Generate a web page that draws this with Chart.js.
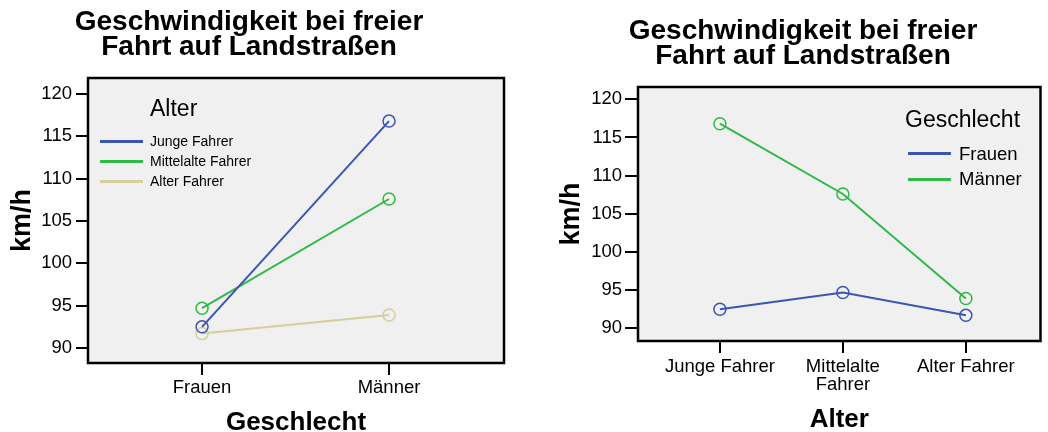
<!DOCTYPE html>
<html>
<head>
<meta charset="utf-8">
<script src="https://cdn.jsdelivr.net/npm/chart.js@4.4.1/dist/chart.umd.min.js"></script>
<style>
  body { margin: 0; width: 1048px; height: 432px; overflow: hidden; background: #fff; position: relative;
         font-family: 'Liberation Sans', Arial, sans-serif; color: #000; }
  canvas { position: absolute; top: 0; }
  #chart1 { left: -6px; }
  #chart2 { left: 540px; }
  .legend { position: absolute; z-index: 2; white-space: nowrap; }
  .legend .ttl { font-size: 23px; line-height: 26px; }
  .legend .row { display: flex; align-items: center; }
  .legend .swatch { display: inline-block; width: 43px; height: 3px; }
  #legend1 { left: 100px; top: 95px; }
  #legend1 .ttl { margin-left: 50px; margin-bottom: 10px; }
  #legend1 .row { height: 20px; font-size: 14px; }
  #legend1 .swatch { margin-right: 7px; }
  #legend2 { left: 908px; top: 106px; }
  #legend2 .ttl { margin-left: -3px; margin-bottom: 8.75px; }
  #legend2 .row { height: 25.5px; font-size: 18.5px; }
  #legend2 .swatch { margin-right: 8px; }
</style>
</head>
<body>
<canvas id="chart1" width="526" height="432"></canvas>
<canvas id="chart2" width="508" height="432"></canvas>
<div id="legend1" class="legend"></div>
<div id="legend2" class="legend"></div>
<script>
// values (km/h)
const genderLabels = ['Frauen', 'Männer'];
const ageLabels = ['Junge Fahrer', 'Mittelalte Fahrer', 'Alter Fahrer'];
const ageTickLabels = [['Junge Fahrer'], ['Mittelalte', 'Fahrer'], ['Alter Fahrer']];
const speedFrauen = [92.5, 94.7, 91.7];   // Junge, Mittelalte, Alter
const speedMaenner = [116.8, 107.6, 93.9];
const yTicks = [90, 95, 100, 105, 110, 115, 120];

const ageColors = ['#3c55b0', '#30b848', '#d6ce9b'];
const genderColors = ['#3c55b0', '#30b848'];
const chartTitle = ['Geschwindigkeit bei freier', 'Fahrt auf Landstraßen'];

Chart.defaults.font.family = "'Liberation Sans', Arial, sans-serif";
Chart.defaults.color = '#000';

// grey plot background + black frame
const plotFrame = {
  id: 'plotFrame',
  beforeDraw(chart) {
    const { ctx, chartArea: a } = chart;
    ctx.save();
    ctx.fillStyle = '#f0f0f0';
    ctx.fillRect(a.left, a.top, a.width, a.height);
    ctx.restore();
  },
  afterDraw(chart) {
    const { ctx, chartArea: a } = chart;
    ctx.save();
    ctx.strokeStyle = '#000';
    ctx.lineWidth = 2.5;
    ctx.strokeRect(a.left, a.top, a.width, a.height);
    ctx.restore();
  }
};

// legend as html, built from the datasets
const htmlLegend = {
  id: 'htmlLegend',
  afterUpdate(chart, args, opts) {
    const box = document.getElementById(opts.containerID);
    box.innerHTML = '';
    const t = document.createElement('div');
    t.className = 'ttl';
    t.textContent = opts.title;
    box.appendChild(t);
    chart.data.datasets.forEach((ds) => {
      const row = document.createElement('div');
      row.className = 'row';
      const sw = document.createElement('span');
      sw.className = 'swatch';
      sw.style.background = ds.borderColor;
      const tx = document.createElement('span');
      tx.textContent = ds.label;
      row.append(sw, tx);
      box.appendChild(row);
    });
  }
};

function lineDataset(label, values, color) {
  return {
    label: label,
    data: values.map((v, i) => ({ x: i, y: v })),
    borderColor: color,
    borderWidth: 2,
    pointRadius: 6,
    pointHoverRadius: 6,
    pointBorderWidth: 1.5,
    pointBorderColor: color,
    pointBackgroundColor: 'rgba(0,0,0,0)',
    tension: 0,
  };
}

function makeOptions(cfg) {
  return {
    responsive: false,
    animation: false,
    events: [],
    layout: { padding: cfg.padding },
    plugins: {
      legend: { display: false },
      tooltip: { enabled: false },
      title: {
        display: true,
        text: chartTitle,
        color: '#000',
        font: { size: 28, weight: 'bold', lineHeight: 25 / 28 },
        padding: cfg.titlePadding,
      },
      htmlLegend: { containerID: cfg.legendID, title: cfg.legendTitle },
    },
    scales: {
      x: {
        type: 'linear',
        min: cfg.xMin,
        max: cfg.xMax,
        afterBuildTicks: (s) => { s.ticks = cfg.xLabels.map((_, i) => ({ value: i })); },
        afterFit: (s) => { s.height = cfg.xHeight; },
        ticks: {
          callback: (v) => cfg.xLabels[v],
          font: { size: 18.5, lineHeight: 1 },
          padding: cfg.xTickPad,
          maxRotation: 0,
          autoSkip: false,
        },
        grid: { drawOnChartArea: false, drawTicks: true, tickLength: 12, color: '#000', lineWidth: 2 },
        border: { display: false },
        title: {
          display: true,
          text: cfg.xTitle,
          font: { size: 26, weight: 'bold', lineHeight: cfg.xTitleLH },
          padding: 0,
        },
      },
      y: {
        type: 'linear',
        min: cfg.yMin,
        max: cfg.yMax,
        afterBuildTicks: (s) => { s.ticks = yTicks.map((v) => ({ value: v })); },
        afterFit: (s) => { s.width = cfg.yWidth; },
        ticks: { font: { size: 18.5 }, padding: cfg.yTickPad },
        grid: { drawOnChartArea: false, drawTicks: true, tickLength: cfg.yTickLen, color: '#000', lineWidth: 2 },
        border: { display: false },
        title: {
          display: true,
          text: 'km/h',
          font: { size: 27, weight: 'bold', lineHeight: 0.867 },
          padding: { top: cfg.yTitlePad, bottom: 0 },
        },
      },
    },
  };
}

// chart 1: x = Geschlecht, one line per age group
new Chart(document.getElementById('chart1'), {
  type: 'line',
  data: {
    datasets: ageLabels.map((a, i) =>
      lineDataset(a, [speedFrauen[i], speedMaenner[i]], ageColors[i])),
  },
  options: makeOptions({
    padding: { left: 0, right: 16, top: 0, bottom: 0 },
    titlePadding: { top: 10, bottom: 18 },
    legendID: 'legend1',
    legendTitle: 'Alter',
    xLabels: genderLabels,
    xMin: -0.61, xMax: 1.615,
    xHeight: 69, xTickPad: 4,
    xTitle: 'Geschlecht', xTitleLH: 19 / 26,
    yMin: 88.23, yMax: 121.89,
    yWidth: 94, yTickPad: 4, yTickLen: 12, yTitlePad: 16.8,
  }),
  plugins: [plotFrame, htmlLegend],
});

// chart 2: x = Alter, one line per gender
new Chart(document.getElementById('chart2'), {
  type: 'line',
  data: {
    datasets: [
      lineDataset(genderLabels[0], speedFrauen, genderColors[0]),
      lineDataset(genderLabels[1], speedMaenner, genderColors[1]),
    ],
  },
  options: makeOptions({
    padding: { left: 20, right: 2, top: 0, bottom: 0 },
    titlePadding: { top: 18.5, bottom: 18.5 },
    legendID: 'legend2',
    legendTitle: 'Geschlecht',
    xLabels: ageTickLabels,
    xMin: -0.666, xMax: 2.607,
    xHeight: 91, xTickPad: 4.5,
    xTitle: 'Alter', xTitleLH: 24 / 26,
    yMin: 88.34, yMax: 121.61,
    yWidth: 78, yTickPad: 3, yTickLen: 13, yTitlePad: 0,
  }),
  plugins: [plotFrame, htmlLegend],
});
</script>
</body>
</html>
